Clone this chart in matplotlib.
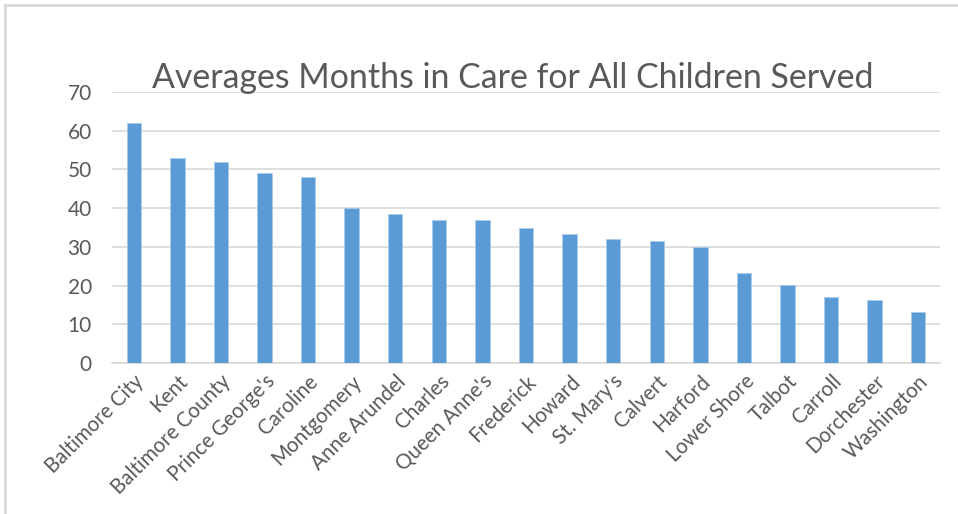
import matplotlib
matplotlib.use("Agg")
import matplotlib.pyplot as plt
from matplotlib.lines import Line2D

counties = ["Baltimore City", "Kent", "Baltimore County", "Prince George's", "Caroline",
            "Montgomery", "Anne Arundel", "Charles", "Queen Anne's", "Frederick",
            "Howard", "St. Mary's", "Calvert", "Harford", "Lower Shore", "Talbot",
            "Carroll", "Dorchester", "Washington"]
months = [62, 53, 52, 49, 48, 40, 38.5, 37, 37, 35, 33.2, 32.1, 31.5, 30, 23.3, 20.2, 17, 16.2, 13.2]
yticks = [0, 10, 20, 30, 40, 50, 60, 70]
title = "Averages Months in Care for All Children Served"

plt.rcParams['font.family'] = ['Lato', 'DejaVu Sans']
W, H = 958, 514
fig = plt.figure(figsize=(W / 100, H / 100), dpi=100)
fig.patch.set_facecolor("white")

ax = fig.add_axes([112 / W, (H - 363) / H, (940 - 112) / W, (363 - 92) / H])
x = list(range(len(counties)))
ax.bar(x, months, width=0.33, color="#5B9BD5", edgecolor="#A9CBEB", linewidth=0.6, zorder=3)
ax.set_xlim(-0.5, len(counties) - 0.5)
ax.set_ylim(0, 70)
ax.set_yticks(yticks)
ax.set_yticklabels([str(v) for v in yticks], fontsize=15, color="#595959")
ax.set_xticks(x)
ax.set_xticklabels(counties, rotation=45, ha="right", va="top", rotation_mode="anchor",
                   fontsize=14.8, color="#595959")
ax.tick_params(axis="both", length=0)
ax.tick_params(axis="y", pad=14.5)
ax.tick_params(axis="x", pad=6)
ax.grid(axis="y", color="#D9D9D9", linewidth=1.2, zorder=0)
for s in ["top", "right", "left"]:
    ax.spines[s].set_visible(False)
ax.spines["bottom"].set_color("#D9D9D9")
ax.spines["bottom"].set_linewidth(1.2)

fig.text(513 / W, (H - 78) / H, title, ha="center", va="center", fontsize=24.4, color="#595959")

# outer chart border (top and left visible)
fig.add_artist(Line2D([5 / W, 1.0], [(H - 5) / H, (H - 5) / H], color="#D9D9D9", linewidth=2, transform=fig.transFigure))
fig.add_artist(Line2D([5 / W, 5 / W], [0, (H - 5) / H], color="#D9D9D9", linewidth=2, transform=fig.transFigure))

fig.savefig("out.png", dpi=100)
